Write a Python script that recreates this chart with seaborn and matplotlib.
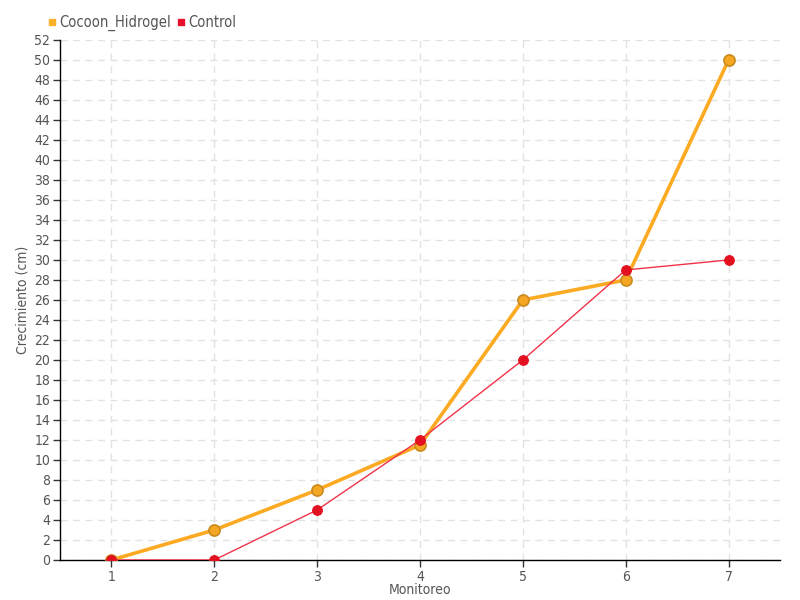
import seaborn as sns
import pandas as pd
import numpy as np
import matplotlib.pyplot as plt

monitoreo = [1, 2, 3, 4, 5, 6, 7]
cocoon = [0, 3, 7, 11.5, 26, 28, 50]
control = [0, 0, 5, 12, 20, 29, 30]

df = pd.DataFrame({'Monitoreo': monitoreo, 'Cocoon_Hidrogel': cocoon, 'Control': control})

sns.set_style('white')
plt.rcParams['font.family'] = ['DejaVu Sans']
plt.rcParams['font.stretch'] = 'condensed'

fig = plt.figure(figsize=(8, 6), dpi=100)
ax = fig.add_axes([0.075, 0.0667, 0.9, 0.8667])

sns.lineplot(data=df, x='Monitoreo', y='Cocoon_Hidrogel', ax=ax, color='#FBAA22',
             linewidth=2.6, marker='o', markersize=8, markerfacecolor='#F5A623',
             markeredgecolor='#C98A1E', markeredgewidth=1.2, label='Cocoon_Hidrogel', zorder=3)
sns.lineplot(data=df, x='Monitoreo', y='Control', ax=ax, color='#F0334A',
             linewidth=1, marker='o', markersize=7, markerfacecolor='#E3101F',
             markeredgecolor='#E3101F', label='Control', zorder=4)

ax.set_xlim(0.5, 7.5)
ax.set_ylim(0, 52)
ax.set_xticks(monitoreo)
ax.set_yticks(np.arange(0, 53, 2))
ax.grid(True, linestyle=(0, (5, 4)), color='#e2e2e2', linewidth=1)
for s in ['top', 'right']:
    ax.spines[s].set_visible(False)
for s in ['left', 'bottom']:
    ax.spines[s].set_color('black')
    ax.spines[s].set_linewidth(1)
ax.tick_params(axis='both', which='both', length=5, width=1, color='#333333',
               labelsize=10, labelcolor='#555555', direction='out')
ax.tick_params(axis='x', pad=2, bottom=True)
ax.tick_params(axis='y', left=True, pad=2)
ax.set_xlabel('Monitoreo', fontsize=10, color='#555555')
ax.set_ylabel('Crecimiento (cm)', fontsize=10, color='#555555')
ax.xaxis.set_label_coords(0.5, -0.045)
ax.yaxis.set_label_coords(-0.042, 0.5)

handles = [plt.Line2D([], [], marker='s', color='none', markerfacecolor='#FBB22A',
                      markeredgecolor='#FBB22A', markersize=5),
           plt.Line2D([], [], marker='s', color='none', markerfacecolor='#E8102A',
                      markeredgecolor='#E8102A', markersize=5)]
ax.legend(handles, ['Cocoon_Hidrogel', 'Control'], loc='lower left',
          bbox_to_anchor=(-0.03, 1.0), ncol=2, frameon=False, fontsize=10.5,
          handlelength=0.6, handletextpad=0.2, columnspacing=0.4, labelcolor='#555555',
          borderaxespad=0.2)

fig.savefig('out.png', dpi=100)
